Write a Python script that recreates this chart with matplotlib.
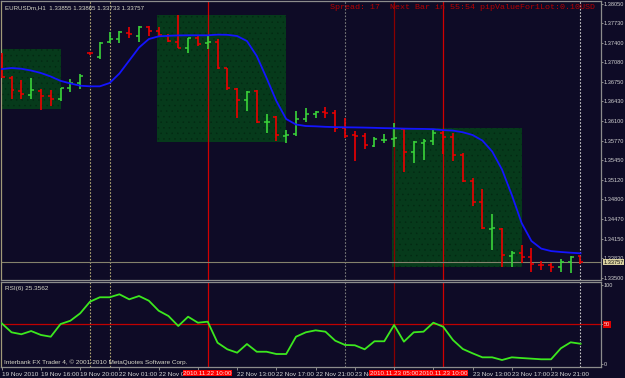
import matplotlib
matplotlib.use("Agg")
import matplotlib.pyplot as plt
from matplotlib import font_manager
from matplotlib.patches import Rectangle
import matplotlib.transforms as mtransforms

# ---------------- data ----------------
# time-axis labels (labels hidden under the red time boxes are left empty,
# partly hidden ones are shown as far as they are visible)
time_labels = ["19 Nov 2010", "19 Nov 16:00", "19 Nov 20:00", "22 Nov 01:00", "22 Nov 0",
               "", "22 Nov 13:00", "22 Nov 17:00", "22 Nov 21:00", "23 No",
               "", "", "23 Nov 13:00", "23 Nov 17:00", "23 Nov 21:00"]
time_label_bars = [0, 4, 8, 12, 16, 20, 24, 28, 32, 36, 40, 44, 48, 52, 56]

opens = [1.37180, 1.36820, 1.36604, 1.36541, 1.36604, 1.36516, 1.36462, 1.36654, 1.36727, 1.37230,
         1.37164, 1.37418, 1.37463, 1.37567, 1.37517, 1.37657, 1.37600, 1.37512, 1.37418, 1.37318,
         1.37474, 1.37396, 1.37408, 1.36976, 1.36633, 1.36450, 1.36599, 1.36085, 1.36173, 1.35852,
         1.35881, 1.36135, 1.36218, 1.36251, 1.36229, 1.35980, 1.35861, 1.35852, 1.35686, 1.35786,
         1.35803, 1.35969, 1.35592, 1.35741, 1.35769, 1.35907, 1.35839, 1.35537, 1.35110, 1.34762,
         1.34308, 1.34308, 1.33865, 1.33915, 1.33839, 1.33719, 1.33706, 1.33673, 1.33766, 1.33855]
highs = [1.37230, 1.36848, 1.36782, 1.36815, 1.36628, 1.36616, 1.36654, 1.36799, 1.36882, 1.37247,
         1.37418, 1.37574, 1.37595, 1.37657, 1.37678, 1.37678, 1.37667, 1.37546, 1.37861, 1.37484,
         1.37512, 1.37512, 1.37458, 1.36986, 1.36644, 1.36599, 1.36616, 1.36218, 1.36189, 1.35952,
         1.36267, 1.36312, 1.36272, 1.36329, 1.36284, 1.36146, 1.35935, 1.35907, 1.35831, 1.35881,
         1.36063, 1.35980, 1.35769, 1.35798, 1.35964, 1.35944, 1.35897, 1.35565, 1.35150, 1.34972,
         1.34553, 1.34320, 1.33943, 1.34043, 1.33998, 1.33777, 1.33749, 1.33806, 1.33860, 1.33865]
lows = [1.36815, 1.36462, 1.36462, 1.36467, 1.36284, 1.36355, 1.36438, 1.36588, 1.36628, 1.37197,
        1.37126, 1.37391, 1.37391, 1.37474, 1.37418, 1.37512, 1.37501, 1.37413, 1.37308, 1.37225,
        1.37346, 1.37292, 1.36960, 1.36616, 1.36156, 1.36272, 1.36063, 1.35907, 1.35774, 1.35741,
        1.35852, 1.36090, 1.36146, 1.36156, 1.35924, 1.35814, 1.35437, 1.35637, 1.35675, 1.35741,
        1.35675, 1.35250, 1.35409, 1.35454, 1.35703, 1.35549, 1.35437, 1.35094, 1.34695, 1.34304,
        1.33960, 1.33683, 1.33683, 1.33749, 1.33600, 1.33628, 1.33600, 1.33600, 1.33583, 1.33733]
closes = [1.36832, 1.36611, 1.36550, 1.36616, 1.36516, 1.36467, 1.36644, 1.36737, 1.36848, 1.37222,
          1.37396, 1.37463, 1.37574, 1.37541, 1.37657, 1.37600, 1.37529, 1.37429, 1.37318, 1.37474,
          1.37375, 1.37405, 1.36986, 1.36654, 1.36450, 1.36588, 1.36090, 1.36093, 1.35869, 1.35869,
          1.36135, 1.36218, 1.36256, 1.36239, 1.35980, 1.35852, 1.35852, 1.35703, 1.35803, 1.35794,
          1.35819, 1.35592, 1.35753, 1.35769, 1.35907, 1.35839, 1.35537, 1.35110, 1.34762, 1.34320,
          1.34317, 1.33877, 1.33915, 1.33839, 1.33723, 1.33703, 1.33673, 1.33766, 1.33849, 1.33757]
ma_line = [1.36964, 1.36981, 1.36969, 1.36939, 1.36898, 1.36840, 1.36768, 1.36725, 1.36687, 1.36677,
           1.36677, 1.36732, 1.36890, 1.37105, 1.37321, 1.37462, 1.37507, 1.37516, 1.37522, 1.37524,
           1.37524, 1.37524, 1.37535, 1.37532, 1.37512, 1.37429, 1.37180, 1.36815, 1.36433, 1.36134,
           1.36043, 1.36018, 1.36013, 1.36005, 1.36000, 1.35997, 1.35995, 1.35992, 1.35988, 1.35983,
           1.35980, 1.35975, 1.35972, 1.35970, 1.35965, 1.35950, 1.35942, 1.35915, 1.35869, 1.35777,
           1.35595, 1.35296, 1.34873, 1.34408, 1.34109, 1.33983, 1.33942, 1.33927, 1.33915, 1.33905]
rsi = [51.3, 39.9, 37.4, 41.5, 36.5, 34.3, 50.4, 54.6, 64.0, 78.8,
       84.4, 84.4, 88.2, 81.8, 86.0, 80.0, 67.3, 60.6, 47.9, 59.7,
       52.1, 53.4, 26.7, 18.3, 14.0, 25.0, 15.2, 15.2, 12.3, 12.3,
       34.3, 39.9, 42.4, 40.7, 29.2, 23.8, 23.4, 18.3, 28.5, 28.5,
       49.2, 28.0, 39.9, 40.7, 52.1, 47.0, 30.1, 18.7, 13.2, 8.1,
       8.1, 4.7, 8.1, 7.2, 6.4, 5.6, 5.6, 19.6, 27.2, 25.36]

price_ticks = [1.38050, 1.37730, 1.37400, 1.37080, 1.36750, 1.36430, 1.36100, 1.35770,
               1.35450, 1.35120, 1.34800, 1.34470, 1.34150, 1.33830, 1.33500]
rsi_ticks = [100, 50, 0]

# boxes: (first bar, last bar, low price, high price)
box_start = [0, 16, 40]
box_end = [6, 29, 53]
box_low = [1.36301, 1.35758, 1.33683]
box_high = [1.37297, 1.37856, 1.35980]

# vertical markers
red_line_bars = [21, 40, 45]
red_line_colors = ["#d00000", "#8a0000", "#d00000"]
red_line_labels = ["2010.11.22 10:00", "2010.11.23 05:00", "2010.11.23 10:00"]
sep_bars = [9, 11, 35, 59]
sep_colors = ["#b0a672", "#b0a672", "#7a7a7a", "#c8c8c8"]

current_price = 1.33757
header = "EURUSDm,H1  1.33855 1.33865 1.33733 1.33757"
info_text = "Spread: 17  Next Bar in 55:54 pipValueFor1Lot:0.10USD"
rsi_title = "RSI(6) 25.3562"
copyright_text = "Interbank FX Trader 4, \u00a9 2001-2010 MetaQuotes Software Corp."

# ---------------- fonts / style ----------------
names = {f.name for f in font_manager.fontManager.ttflist}
SANS = "Liberation Sans" if "Liberation Sans" in names else "DejaVu Sans"
MONO = "Liberation Mono" if "Liberation Mono" in names else "DejaVu Sans Mono"
FS = 4.6
FSY = 4.1

BG = "#0e0b26"
UP = "#3ad43a"
DOWN = "#ee0000"
TXT = "#d2d2d2"
plt.rcParams["hatch.linewidth"] = 0.3
plt.rcParams["font.family"] = SANS

W, H = 625, 378
fig = plt.figure(figsize=(W / 100, H / 100), dpi=100, facecolor=BG)

def px_axes(x0, x1, y0, y1):
    return fig.add_axes([x0 / W, 1 - y1 / H, (x1 - x0) / W, (y1 - y0) / H])

ax = px_axes(1.5, 601, 1, 280)
axr = px_axes(1.5, 601, 282, 366.7)

n = len(closes)
bar_x = list(range(n))
step = 9.81
xlo = (1.5 - 1.7) / step
xhi = (601 - 1.7) / step
for a in (ax, axr):
    a.set_facecolor(BG)
    a.set_xlim(xlo, xhi)
    for s in a.spines.values():
        s.set_color("#8c8c8c")
        s.set_linewidth(0.9)
    a.spines["left"].set_color("#a09a78")

ax.set_ylim(1.38110 - 0.000166 * 280, 1.38110 - 0.000166 * 1)
axr.set_ylim((363.7 - 366.7) / 0.787, (363.7 - 282) / 0.787)

# boxes
for s0, s1, lo, hi in zip(box_start, box_end, box_low, box_high):
    ax.add_patch(Rectangle((s0 - 0.17, lo), s1 - s0 + 0.17, hi - lo,
                           facecolor="#063a1b", edgecolor="#032812", hatch="...",
                           linewidth=0, zorder=1))

# separators / red lines
for b, c in zip(sep_bars, sep_colors):
    for a in (ax, axr):
        a.axvline(b, color=c, lw=0.8, ls=(0, (1.5, 1.5)), zorder=2)
for b, c in zip(red_line_bars, red_line_colors):
    for a in (ax, axr):
        a.axvline(b, color=c, lw=0.9, zorder=2)

# current price line
ax.axhline(current_price, color="#85826c", lw=0.8, zorder=2)

# OHLC bars
cols = [UP if c > o else DOWN for o, c in zip(opens, closes)]
tick = 0.3
ax.vlines(bar_x, lows, highs, colors=cols, lw=1.2, zorder=4)
ax.hlines(opens, [x - tick for x in bar_x], bar_x, colors=cols, lw=1.1, zorder=4)
ax.hlines(closes, bar_x, [x + tick for x in bar_x], colors=cols, lw=1.1, zorder=4)

# moving average
ax.plot(bar_x, ma_line, color="#1414ff", lw=1.3, zorder=5)

# RSI
axr.axhline(50, color="#c00000", lw=0.9, zorder=2)
axr.plot(bar_x, rsi, color="#3ce81e", lw=1.3, zorder=5)

# axes ticks
ax.yaxis.tick_right()
ax.set_yticks(price_ticks)
ax.set_yticklabels([f"{p:.5f}" for p in price_ticks])
ax.tick_params(axis="y", colors="#8c8c8c", labelcolor=TXT, labelsize=FSY, length=1.6,
               width=0.7, pad=0.6)
ax.set_xticks([])

axr.yaxis.tick_right()
axr.set_yticks(rsi_ticks)
axr.set_yticklabels(["100", "", "0"])
axr.tick_params(axis="y", colors="#8c8c8c", labelcolor=TXT, labelsize=FSY, length=1.6,
                width=0.7, pad=0.6)

axr.set_xticks(time_label_bars)
axr.set_xticklabels(time_labels, ha="left")
axr.tick_params(axis="x", colors="#8c8c8c", labelcolor=TXT, labelsize=FS, length=2.5,
                width=0.7, pad=1.0)

# red time labels
tb = mtransforms.blended_transform_factory(axr.transData, axr.transAxes)
for b, t in zip(red_line_bars, red_line_labels):
    axr.text(b, -0.05, t, transform=tb, ha="center", va="top", fontsize=4.5,
             color="#ffe0e0", zorder=10, clip_on=False,
             bbox=dict(boxstyle="square,pad=0.08", facecolor="#ff0000", edgecolor="none"))

# red 50 label
rt = mtransforms.blended_transform_factory(axr.transAxes, axr.transData)
axr.text(1.005, 50, "50", transform=rt, ha="left", va="center", fontsize=FSY,
         color="#ffd0d0", clip_on=False,
         bbox=dict(boxstyle="square,pad=0.2", facecolor="#e00000", edgecolor="none"))

# current price box
pt = mtransforms.blended_transform_factory(ax.transAxes, ax.transData)
ax.text(1.004, current_price, f"{current_price:.5f}", transform=pt, ha="left", va="center",
        fontsize=FSY, color="#101010", clip_on=False, zorder=10,
        bbox=dict(boxstyle="square,pad=0.12", facecolor="#d8d0a0", edgecolor="none"))

# texts
ax.text(0.006, 0.985, header, transform=ax.transAxes, ha="left", va="top", fontsize=4.4,
        color="#d8d8c8", zorder=10)
ax.text(0.99, 0.99, info_text, transform=ax.transAxes, ha="right", va="top", fontsize=6,
        family=MONO, color="#b80000", zorder=10)
axr.text(0.006, 0.95, rsi_title, transform=axr.transAxes, ha="left", va="top",
         fontsize=FS, color="#d8d8c8", zorder=10)
axr.text(0.004, 0.02, copyright_text, transform=axr.transAxes, ha="left", va="bottom",
         fontsize=FS, color="#d8d8c8", zorder=10)

fig.savefig("out.png", dpi=100, facecolor=BG)
